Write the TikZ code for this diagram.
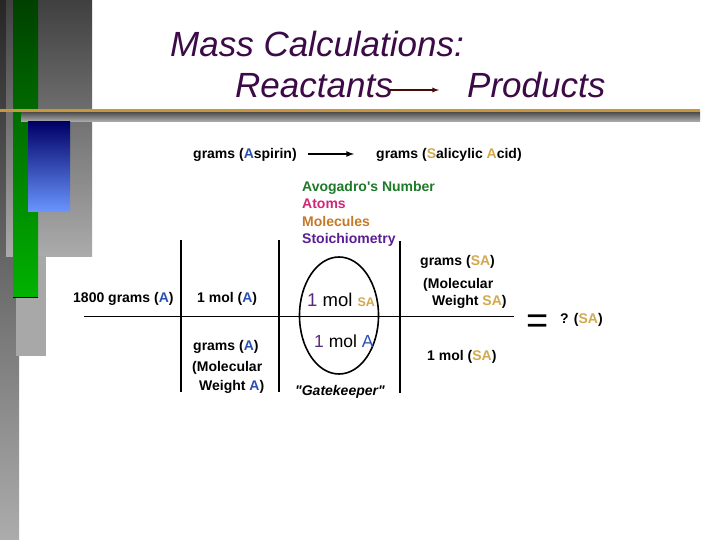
\documentclass[tikz,border=0pt]{standalone}
\usepackage{fontspec}
\setmainfont{Liberation Sans}
\usepackage{xcolor}

\definecolor{titlepurple}{HTML}{3C0A46}
\definecolor{aspblue}{HTML}{2850B4}
\definecolor{sagold}{HTML}{D4A84E}
\definecolor{avogreen}{HTML}{1E7A28}
\definecolor{atompink}{HTML}{D02878}
\definecolor{molorange}{HTML}{C47A28}
\definecolor{stoichpurple}{HTML}{5A1E96}
\definecolor{onepurple}{HTML}{5A2A7A}
\definecolor{rulegold}{HTML}{C8963C}
\definecolor{arrowred}{HTML}{4A0A0A}
\definecolor{lightblue}{HTML}{6A96FF}

\newcommand{\aspA}{{\color{aspblue}A}}
\newcommand{\salSA}{{\color{sagold}SA}}

\begin{document}
\begin{tikzpicture}[
    x=1pt, y=-1pt,
    >=latex, % arrowheads
    txt/.style={anchor=base west, inner sep=0pt,
      font=\fontsize{14}{16}\selectfont\bfseries},
    titletxt/.style={anchor=base west, inner sep=0pt, text=titlepurple,
      font=\fontsize{35}{40}\selectfont\itshape},
    arrow/.style={->, line width=1.6pt},
    gridline/.style={line width=1.8pt},
  ]
  \useasboundingbox (0,0) rectangle (720,540);
  \fill[white] (0,0) rectangle (720,540);

  % Left side bars
  \fill[top color=black!85, bottom color=gray!65] (0,0) rectangle (19,540);
  \fill[top color=black!75, bottom color=black!33] (6,0) rectangle (92,256);
  \fill[black!34] (16,256) rectangle (46,356);
  \fill[top color=green!25!black, bottom color=green!70!black] (13,0) rectangle (38,297);
  \draw[black, line width=0.6pt] (13,297) -- (38,297);
  \fill[top color=black!70, bottom color=black!30] (21,112) rectangle (700,122);
  \fill[rulegold] (0,109.5) rectangle (700,112);
  \fill[top color=blue!40!black, bottom color=lightblue] (28,122) rectangle (70,212);

  % Title
  \node[titletxt] (titlea) at (170,57) {Mass Calculations:};
  \node[titletxt] (reactants) at (235,98) {Reactants};
  \node[titletxt] (products) at (467,98) {Products};
  \draw[->, arrowred, line width=1.3pt]
    ([shift={(-3,-8)}]reactants.base east) -- ([shift={(-28,-8)}]products.base west);

  % Top row
  \node[txt] (aspirin) at (193,158.5) {grams (\aspA spirin)};
  \node[txt] (salicylic) at (376,158.5)
    {grams ({\color{sagold}S}alicylic {\color{sagold}A}cid)};
  \draw[arrow, shorten <=11pt, shorten >=22pt]
    ([yshift=4.5]aspirin.base east) -- ([yshift=4.5]salicylic.base west);

  \node[txt, text=avogreen] (avogadro) at (302,191.5) {Avogadro\textquotesingle s Number};
  \node[txt, text=atompink] (atoms) at (302,209) {Atoms};
  \node[txt, text=molorange] (molecules) at (302,226) {Molecules};
  \node[txt, text=stoichpurple] (stoich) at (302,243.5) {Stoichiometry};

  % Grid
  \draw[gridline] (84,316.5) -- (514,316.5);
  \draw[gridline] (181,240) -- (181,392);
  \draw[gridline] (279,240) -- (279,392);
  \draw[gridline] (400,241) -- (400,393);
  \draw[line width=1.6pt] (339,315.5) ellipse (39.5 and 58.5);

  % Left part
  \node[txt] (start) at (73,302) {1800 grams (\aspA)};
  \node[txt] (molA) at (197,302) {1 mol (\aspA)};
  \node[txt] (gramsA) at (193,350) {grams (\aspA)};
  \node[txt] (mwAa) at (192,371.5) {(Molecular};
  \node[txt] (mwAb) at (199,390) {Weight \aspA)};

  % Gatekeeper
  \node[anchor=base west, inner sep=0pt, font=\fontsize{18.5}{20}\selectfont] (molSAin) at (307,306)
    {{\color{onepurple}1} mol {\fontsize{12.5}{14}\selectfont\bfseries\color{sagold}SA}};
  \node[anchor=base west, inner sep=0pt, font=\fontsize{17.5}{20}\selectfont] (molAin) at (314,347)
    {{\color{onepurple}1} mol {\color{aspblue}A}};
  \node[txt, font=\fontsize{14}{16}\selectfont\bfseries\itshape] (gatekeeper) at (295,395)
    {\textquotedbl Gatekeeper\textquotedbl};

  % Right part
  \node[txt] (gramsSA) at (420,265) {grams (\salSA)};
  \node[txt] (mwSAa) at (423,288) {(Molecular};
  \node[txt] (mwSAb) at (432,305) {Weight \salSA)};
  \node[txt] (molSA) at (427,360) {1 mol (\salSA)};

  \node[anchor=base west, inner sep=0pt, font=\fontsize{38}{40}\selectfont] (equals) at (526,333) {=};
  \node[txt] (result) at (560,323) {? (\salSA)};

\end{tikzpicture}
\end{document}
